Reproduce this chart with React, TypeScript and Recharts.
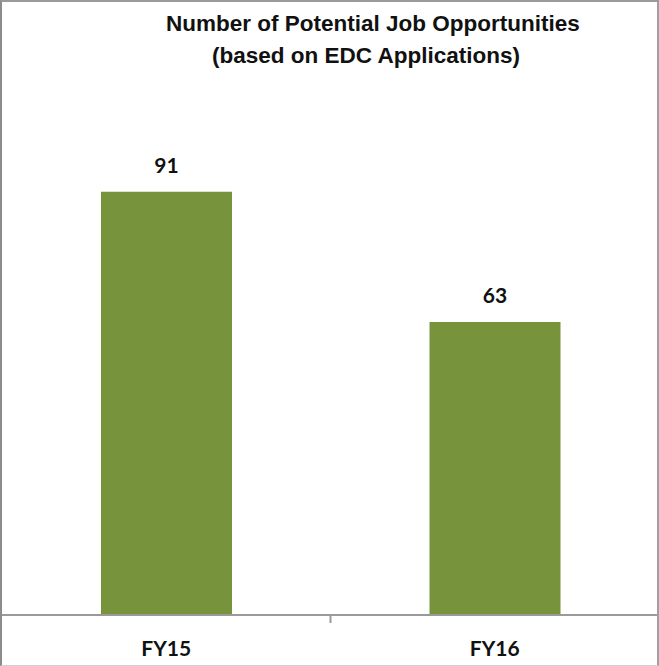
import { BarChart, Bar, XAxis, YAxis, LabelList } from 'recharts';

const categories = ['FY15', 'FY16'];
const jobs = [91, 63];
const titleLines = ['Number of Potential Job Opportunities', '(based on EDC Applications)'];

const data = categories.map((year, i) => ({ year, jobs: jobs[i] }));

const FONT = 'Lato, "Open Sans", sans-serif';

function YearTick(props: any) {
  const { x, y, payload, index } = props;
  const offset = payload && typeof payload.offset === 'number' ? payload.offset : 0;
  return (
    <g>
      {index === 0 && offset > 0 && (
        <line x1={x + offset} x2={x + offset} y1={y} y2={y + 8} stroke="#9a9a9a" strokeWidth={2} />
      )}
      <text
        x={x}
        y={y}
        dy={41}
        textAnchor="middle"
        fontFamily={FONT}
        fontWeight={700}
        fontSize={21}
        fill="#111"
      >
        {payload.value}
      </text>
    </g>
  );
}

export default function App() {
  return (
    <div style={{ position: 'absolute', left: 0, top: 0, width: 659, height: 666, background: '#fff' }}>
      <BarChart
        width={659}
        height={666}
        data={data}
        margin={{ top: 150, right: 0, bottom: 0, left: 2 }}
        barSize={131}
      >
        <YAxis hide domain={[0, 100]} />
        <XAxis
          dataKey="year"
          height={51}
          axisLine={{ stroke: '#9a9a9a', strokeWidth: 2 }}
          tickLine={false}
          tickSize={0}
          tickMargin={0}
          interval={0}
          tick={<YearTick />}
        />
        <Bar dataKey="jobs" fill="#77933C" isAnimationActive={false}>
          <LabelList
            dataKey="jobs"
            position="top"
            offset={19}
            fill="#111"
            fontFamily={FONT}
            fontWeight={700}
            fontSize={21}
          />
        </Bar>
      </BarChart>
      <div
        style={{
          position: 'absolute',
          left: 166,
          top: 8,
          width: 400,
          textAlign: 'center',
          fontFamily: '"Liberation Sans", Arial, sans-serif',
          fontWeight: 700,
          fontSize: 22.5,
          lineHeight: '32px',
          color: '#111',
          whiteSpace: 'nowrap',
        }}
      >
        {titleLines.map((t) => (
          <div key={t}>{t}</div>
        ))}
      </div>
      <div
        style={{
          position: 'absolute',
          left: 0,
          top: 0,
          width: 659,
          height: 666,
          boxSizing: 'border-box',
          borderTop: '2px solid #9a9a9a',
          borderLeft: '2px solid #8c8c8c',
          borderRight: '2px solid #a0a0a0',
          borderBottom: '1px solid #d0d0d0',
          pointerEvents: 'none',
        }}
      />
    </div>
  );
}
